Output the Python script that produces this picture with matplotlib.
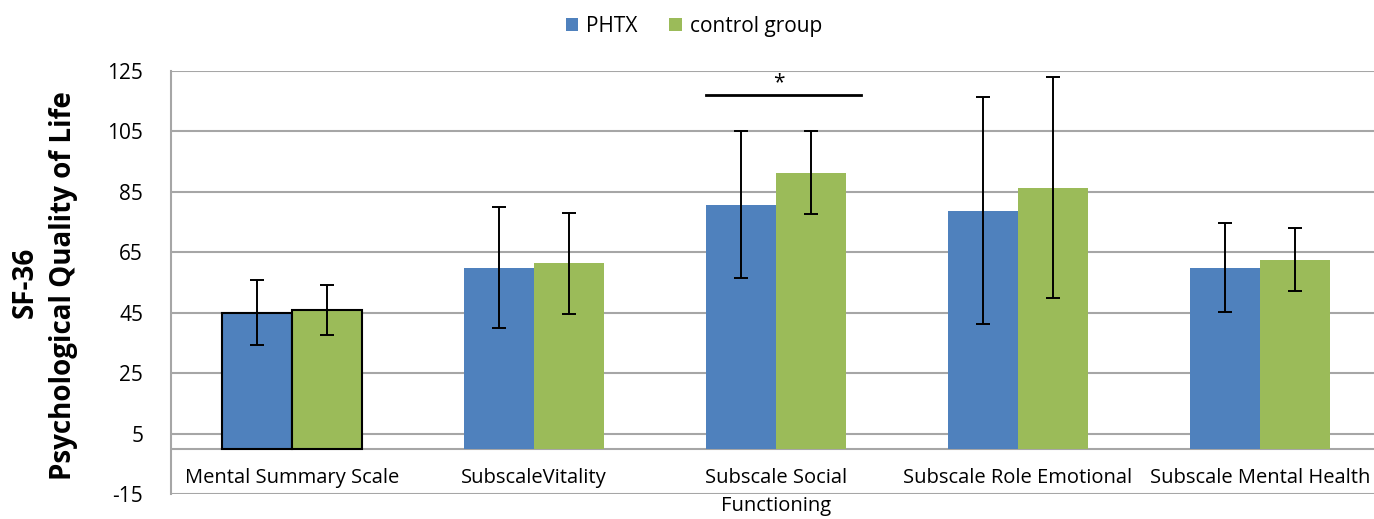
import matplotlib.pyplot as plt
import numpy as np

plt.rcParams['font.family'] = ['Open Sans', 'DejaVu Sans']
plt.rcParams['axes.unicode_minus'] = False

categories = ["Mental Summary Scale", "SubscaleVitality", "Subscale Social\nFunctioning",
              "Subscale Role Emotional", "Subscale Mental Health"]
phtx = [45.0, 59.9, 80.8, 78.8, 59.9]
phtx_err = [10.7, 20.0, 24.3, 37.7, 14.7]
control = [45.8, 61.3, 91.4, 86.4, 62.6]
control_err = [8.3, 16.7, 13.7, 36.6, 10.4]
yticks = [-15, 5, 25, 45, 65, 85, 105, 125]

blue = "#4F81BD"
green = "#9BBB59"
grid_col = "#A6A6A6"

fig = plt.figure(figsize=(13.74, 5.19), dpi=100)
# axes runs a bit past the right edge, like the cropped original
ax = fig.add_axes([171 / 1374, 25 / 519, 1210 / 1374, 423 / 519])

x = np.arange(len(categories))
w = 0.289
ax.bar(x - w / 2, phtx, w, color=blue, label="PHTX", zorder=2)
ax.bar(x + w / 2, control, w, color=green, label="control group", zorder=2)
# first group has black outlines
ax.bar(x[0] - w / 2, phtx[0], w, color=blue, edgecolor="black", linewidth=1.5, zorder=2)
ax.bar(x[0] + w / 2, control[0], w, color=green, edgecolor="black", linewidth=1.5, zorder=2)

ax.errorbar(x - w / 2, phtx, yerr=phtx_err, fmt="none", ecolor="black",
            elinewidth=1.4, capsize=5, capthick=1.4, zorder=3)
ax.errorbar(x + w / 2, control, yerr=control_err, fmt="none", ecolor="black",
            elinewidth=1.4, capsize=5, capthick=1.4, zorder=3)

# significance marker
ax.plot([1.711, 2.351], [116.9, 116.9], color="black", lw=2, zorder=3)
ax.text(2.01, 117.5, "*", ha="center", va="bottom", fontsize=15)

ax.set_xlim(-0.5, 4.5)
ax.set_ylim(-15, 125)
ax.set_yticks(yticks)
ax.tick_params(axis="y", length=0, labelsize=15, pad=20)
ax.set_xticks([])
ax.yaxis.grid(True, color=grid_col, lw=1.5, zorder=0)
ax.axhline(0, color=grid_col, lw=1.5, zorder=1)
for s in ["top", "right", "bottom"]:
    ax.spines[s].set_visible(False)
ax.spines["left"].set_color(grid_col)
ax.spines["left"].set_linewidth(1.5)

for i, c in enumerate(categories):
    ax.text(x[i], -6.3, c, ha="center", va="top", fontsize=14.5, linespacing=1.55, clip_on=False)

fig.text(25 / 1374, 237 / 519, "SF-36", rotation=90, ha="center", va="center",
         fontsize=20, fontweight="bold")
fig.text(63 / 1374, 233 / 519, "Psychological Quality of Life", rotation=90, ha="center",
         va="center", fontsize=20, fontweight="bold")

fig.legend(loc="upper center", bbox_to_anchor=(0.505, 1.005), ncol=2, frameon=False,
           fontsize=15, handlelength=0.6, handleheight=0.6, handletextpad=0.4,
           columnspacing=1.5)

plt.savefig("out.png", dpi=100)
